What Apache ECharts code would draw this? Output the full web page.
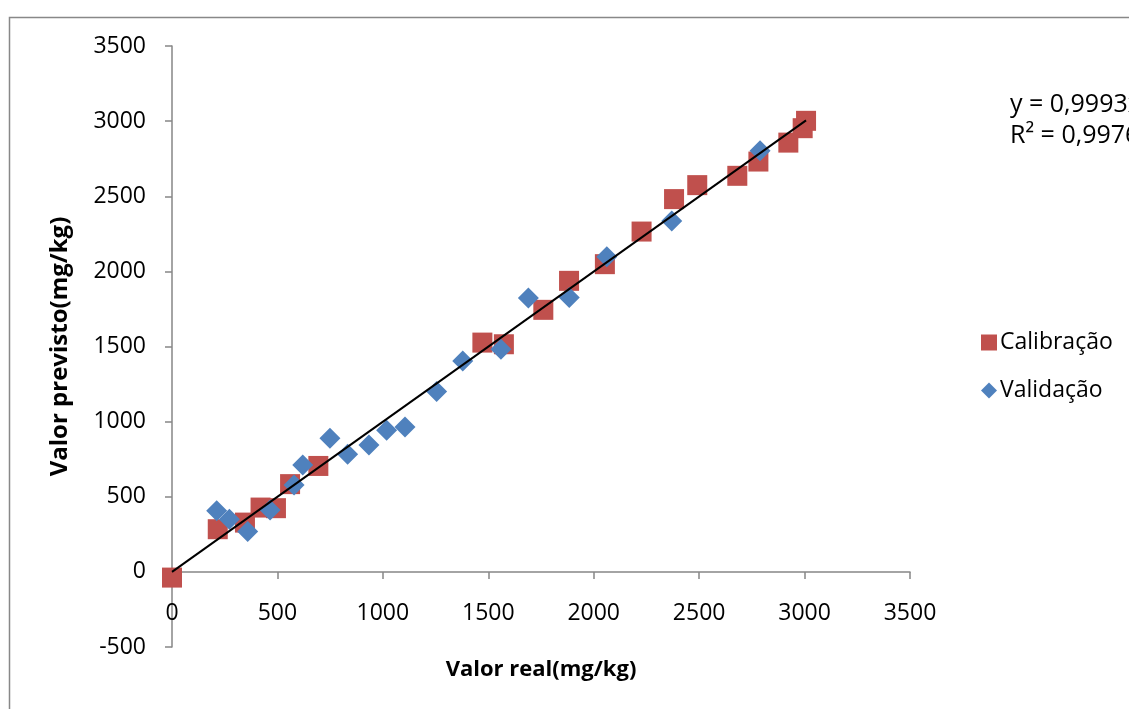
<!DOCTYPE html>
<html>
<head>
<meta charset="utf-8">
<script src="https://cdn.jsdelivr.net/npm/echarts@6/dist/echarts.min.js"></script>
<style>
  html, body { margin: 0; padding: 0; background: #fff; }
  #chart { width: 1129px; height: 709px; }
</style>
</head>
<body>
<div id="chart"></div>
<script>
// Calibração (quadrados vermelhos)
var calReal = [0, 217, 346, 420, 493, 560, 694, 1472, 1574, 1761, 1883, 2053, 2227, 2381, 2491, 2681, 2781, 2923, 2991, 3007]
var calPrev = [-38, 284, 328, 428, 424, 584, 705, 1526, 1515, 1744, 1937, 2048, 2265, 2481, 2574, 2636, 2731, 2857, 2953, 3002]

// Validação (losangos azuis)
var valReal = [212, 272, 359, 465, 579, 620, 749, 833, 934, 1018, 1105, 1255, 1379, 1560, 1690, 1884, 2062, 2370, 2789]
var valPrev = [406, 351, 268, 411, 579, 712, 890, 783, 845, 943, 965, 1200, 1404, 1482, 1822, 1826, 2097, 2336, 2802]

// linha de tendência y = 0,9993x
var trendX = [0, 3007]
var trendY = [0, 3005]

var xTicks = [0, 3500, 500]
var yTicks = [-500, 3500, 500]

function pairs (xs, ys) {
  var out = []
  for (var i = 0; i < xs.length; i++) {
    out.push([xs[i], ys[i]])
  }
  return out
}

var font = 'Open Sans'
var axisGray = '#868686'

var chart = echarts.init(document.getElementById('chart'))
chart.setOption({
  animation: false,
  backgroundColor: '#fff',
  textStyle: { fontFamily: font },
  grid: {
    left: 172,
    right: 219,
    top: 46,
    bottom: 62,
    outerBoundsMode: 'none',
    containLabel: false
  },
  xAxis: {
    type: 'value',
    min: xTicks[0],
    max: xTicks[1],
    interval: xTicks[2],
    name: 'Valor real(mg/kg)',
    nameLocation: 'middle',
    nameGap: 12,
    nameTextStyle: { fontSize: 22, fontWeight: 'bold', color: '#000', fontFamily: font },
    axisLine: { onZero: true, lineStyle: { color: axisGray, width: 1.5 } },
    axisTick: { show: true, length: 7, inside: false, lineStyle: { color: axisGray, width: 1.5 } },
    axisLabel: {
      margin: -45,
      fontSize: 23,
      color: '#000',
      fontFamily: font,
      formatter: function (v) { return String(v) }
    },
    splitLine: { show: false }
  },
  yAxis: {
    type: 'value',
    min: yTicks[0],
    max: yTicks[1],
    interval: yTicks[2],
    name: 'Valor previsto(mg/kg)',
    nameLocation: 'middle',
    nameGap: 100,
    nameTextStyle: { fontSize: 24, fontWeight: 'bold', color: '#000', fontFamily: font },
    axisLine: { onZero: false, lineStyle: { color: axisGray, width: 1.5 } },
    axisTick: { show: true, length: 7, lineStyle: { color: axisGray, width: 1.5 } },
    axisLabel: {
      margin: 26,
      fontSize: 23,
      color: '#000',
      fontFamily: font,
      formatter: function (v) { return String(v) }
    },
    splitLine: { show: false }
  },
  legend: {
    orient: 'vertical',
    left: 976,
    top: 326,
    itemGap: 25,
    itemWidth: 16,
    itemHeight: 16,
    textStyle: { fontSize: 23, color: '#000', fontFamily: font, padding: [0, 0, 0, -2] },
    data: [
      { name: 'Calibração', icon: 'rect' },
      { name: 'Validação', icon: 'diamond' }
    ]
  },
  series: [
    {
      name: 'Calibração',
      type: 'scatter',
      symbol: 'rect',
      symbolSize: 20,
      itemStyle: { color: '#C0504D', opacity: 1 },
      data: pairs(calReal, calPrev),
      z: 2
    },
    {
      name: 'Validação',
      type: 'scatter',
      symbol: 'diamond',
      symbolSize: 21,
      itemStyle: { color: '#4F81BD', opacity: 1 },
      data: pairs(valReal, valPrev),
      z: 3
    },
    {
      name: 'trend',
      type: 'line',
      showSymbol: false,
      symbol: 'none',
      lineStyle: { color: '#000', width: 2 },
      data: pairs(trendX, trendY),
      z: 4,
      silent: true
    }
  ],
  graphic: [
    {
      type: 'rect',
      left: 7,
      top: 15,
      shape: { width: 1300, height: 900 },
      style: { fill: 'none', stroke: '#888', lineWidth: 1.5 },
      silent: true
    },
    {
      type: 'text',
      left: 1010,
      top: 89,
      style: {
        text: 'y = 0,9993x\nR² = 0,9976',
        font: '25px "Open Sans"',
        lineHeight: 31,
        fill: '#000'
      }
    }
  ]
})
</script>
</body>
</html>
